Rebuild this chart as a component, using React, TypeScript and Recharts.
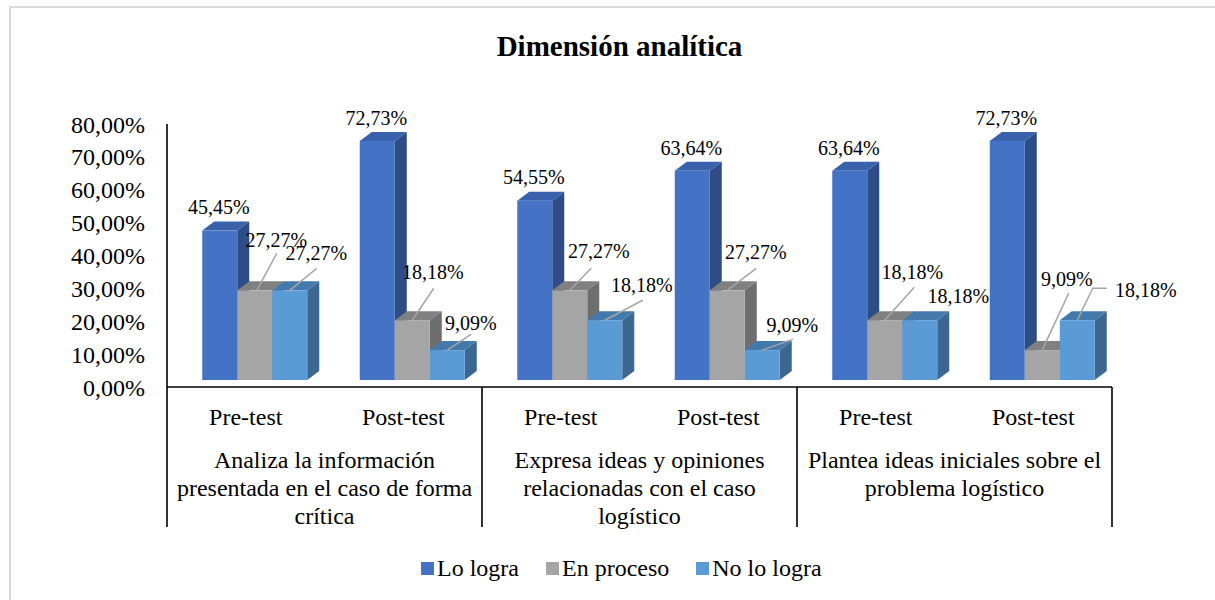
import React from "react";
import { BarChart, Bar, XAxis, YAxis, LabelList } from "recharts";

const categories = ["Pre-test", "Post-test", "Pre-test", "Post-test", "Pre-test", "Post-test"];
const groupLabels = [
  ["Analiza la información", "presentada en el caso de forma", "crítica"],
  ["Expresa ideas y opiniones", "relacionadas con el caso", "logístico"],
  ["Plantea ideas iniciales sobre el", "problema logístico"],
];
const loLogra = [45.45, 72.73, 54.55, 63.64, 63.64, 72.73];
const enProceso = [27.27, 18.18, 27.27, 27.27, 18.18, 9.09];
const noLoLogra = [27.27, 9.09, 18.18, 9.09, 18.18, 18.18];
const yTicks = [0, 10, 20, 30, 40, 50, 60, 70, 80];

const FONT = '"Liberation Serif", "Times New Roman", serif';

// front / top / side faces of the fake 3D columns
const SERIES = [
  { key: "lo", name: "Lo logra", front: "#4472C4", top: "#3A62AC", side: "#2E4C86" },
  { key: "en", name: "En proceso", front: "#A5A5A5", top: "#808080", side: "#6E6E6E" },
  { key: "no", name: "No lo logra", front: "#5B9BD5", top: "#4479AC", side: "#3B6790" },
];

// label centre offsets from the top-centre of each column front
const labelOffsets: Record<string, number[][]> = {
  lo: [[-1, -23], [-1, -23], [-1, -23], [-1, -23], [-1, -23], [-1, -23]],
  en: [[21.5, -50], [20.5, -48], [29, -39], [28.5, -38], [27.5, -48], [24.5, -71]],
  no: [[26.5, -37], [23.5, -27], [37, -35], [30, -25], [38.5, -24], [68.5, -30]],
};
// leader lines, same origin
const leaders: Record<string, (number[][] | null)[]> = {
  lo: [null, null, null, null, null, null],
  en: [
    [[2, 0], [22, -37]],
    [[0, 0], [21.5, -32]],
    [[0, 0], [21.5, -22]],
    [[0, 0], [29, -22]],
    [[0, 0], [29.5, -33]],
    [[0, 0], [26.5, -57]],
  ],
  no: [
    [[0, 0], [27, -22]],
    [[0, 0], [24, -16]],
    [[0, 0], [38, -20]],
    [[0, 0], [31, -11]],
    null,
    [[0, 0], [15.5, -32], [29.5, -32]],
  ],
};

const data = categories.map((name, i) => ({
  name,
  lo: loLogra[i],
  en: enProceso[i],
  no: noLoLogra[i],
}));

const SHIFT_X = 9;
const SHIFT_Y = -7;
const DEPTH_X = 12;
const DEPTH_Y = 9;

const fmt = (v: number) => v.toFixed(2).replace(".", ",") + "%";

const make3DBar = (front: string, top: string, side: string) => (props: any) => {
  const { x, y, width, height } = props;
  if (height == null || width == null) return <g />;
  const x0 = x + SHIFT_X;
  const y0 = y + SHIFT_Y;
  const x1 = x0 + width;
  const y1 = y0 + height;
  return (
    <g>
      <polygon
        points={`${x1},${y0} ${x1 + DEPTH_X},${y0 - DEPTH_Y} ${x1 + DEPTH_X},${y1 - DEPTH_Y} ${x1},${y1}`}
        fill={side}
      />
      <polygon
        points={`${x0},${y0} ${x0 + DEPTH_X},${y0 - DEPTH_Y} ${x1 + DEPTH_X},${y0 - DEPTH_Y} ${x1},${y0}`}
        fill={top}
      />
      <rect x={x0} y={y0} width={width} height={height} fill={front} />
    </g>
  );
};

const makeLabel = (key: string) => (props: any) => {
  const { x, y, width, value, index } = props;
  const cx = x + SHIFT_X + width / 2;
  const cy = y + SHIFT_Y;
  const [ox, oy] = labelOffsets[key][index];
  const leader = leaders[key][index];
  return (
    <g>
      {leader && (
        <polyline
          points={leader.map(([lx, ly]) => `${cx + lx},${cy + ly}`).join(" ")}
          fill="none"
          stroke="#A6A6A6"
          strokeWidth={1.5}
        />
      )}
      <text
        x={cx + ox}
        y={cy + oy}
        dy="0.34em"
        textAnchor="middle"
        fontFamily={FONT}
        fontSize={20}
        fill="#000"
      >
        {fmt(Number(value))}
      </text>
    </g>
  );
};

const CategoryTick = (props: any) => {
  const { x, y, payload } = props;
  const half = payload.offset || 78.75;
  const i = payload.index;
  const group = groupLabels[Math.floor(i / 2)];
  return (
    <g>
      <text x={x} y={y + 30} dy="0.34em" textAnchor="middle" fill="#000" fontFamily={FONT} fontSize={24}>
        {payload.value}
      </text>
      {i % 2 === 0 && (
        <g>
          <line x1={x - half} x2={x - half} y1={y} y2={y + 140} stroke="#000" strokeWidth={1.6} />
          <text textAnchor="middle" fill="#000" fontFamily={FONT} fontSize={24}>
            {group.map((line, k) => (
              <tspan key={k} x={x + half} y={y + 73 + k * 28} dy="0.34em">
                {line}
              </tspan>
            ))}
          </text>
        </g>
      )}
      {i === categories.length - 1 && (
        <line x1={x + half} x2={x + half} y1={y} y2={y + 140} stroke="#000" strokeWidth={1.6} />
      )}
    </g>
  );
};

export default function App() {
  return (
    <div
      style={{
        position: "absolute",
        left: 0,
        top: 0,
        width: 1215,
        height: 600,
        overflow: "hidden",
        background: "#fff",
        fontFamily: FONT,
      }}
    >
      <div
        style={{
          position: "absolute",
          left: 9,
          top: 6,
          width: 1206,
          height: 594,
          borderLeft: "2px solid #D9D9D9",
          borderTop: "2px solid #D9D9D9",
        }}
      />
      <div
        style={{
          position: "absolute",
          left: 0,
          width: 1239,
          top: 28,
          textAlign: "center",
          fontWeight: "bold",
          fontSize: 29,
          lineHeight: "36px",
          color: "#000",
        }}
      >
        Dimensión analítica
      </div>
      <div style={{ position: "absolute", left: 0, top: 0 }}>
        <BarChart
          width={1215}
          height={600}
          data={data}
          margin={{ top: 124, right: 103, bottom: 183, left: 87 }}
          barCategoryGap="16.67%"
          barGap={0}
        >
          <YAxis
            width={80}
            domain={[0, 80]}
            ticks={yTicks}
            tickFormatter={fmt}
            axisLine={{ stroke: "#000", strokeWidth: 1.6 }}
            tickLine={false}
            tickSize={6}
            tickMargin={16}
            tick={{ fontSize: 24, fill: "#000", fontFamily: FONT }}
          />
          <XAxis
            dataKey="name"
            height={30}
            interval={0}
            axisLine={{ stroke: "#000", strokeWidth: 1.6 }}
            tickLine={false}
            tickSize={0}
            tickMargin={0}
            tick={<CategoryTick />}
          />
          {SERIES.map((s) => (
            <Bar
              key={s.key}
              dataKey={s.key}
              name={s.name}
              fill={s.front}
              isAnimationActive={false}
              shape={make3DBar(s.front, s.top, s.side)}
            >
              <LabelList dataKey={s.key} content={makeLabel(s.key)} />
            </Bar>
          ))}
        </BarChart>
      </div>
      <div
        style={{
          position: "absolute",
          left: 421,
          top: 553,
          display: "flex",
          alignItems: "center",
          fontSize: 24,
          lineHeight: "30px",
          color: "#000",
        }}
      >
        {SERIES.map((s, i) => (
          <div
            key={s.key}
            style={{ display: "flex", alignItems: "center", marginLeft: i === 0 ? 0 : 27 }}
          >
            <span
              style={{ display: "inline-block", width: 13, height: 13, background: s.front, marginRight: 3 }}
            />
            <span>{s.name}</span>
          </div>
        ))}
      </div>
    </div>
  );
}
